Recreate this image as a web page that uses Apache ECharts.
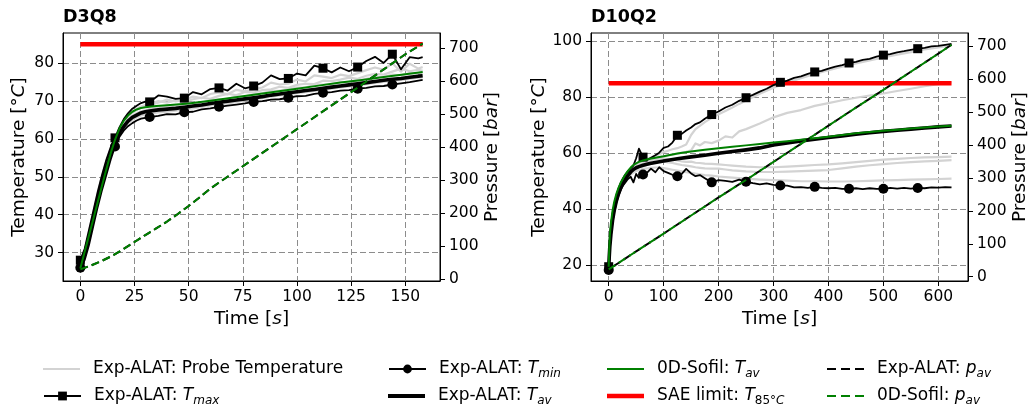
<!DOCTYPE html>
<html>
<head>
<meta charset="utf-8">
<script src="https://cdn.jsdelivr.net/npm/echarts@6/dist/echarts.min.js"></script>
<style>
  html, body { margin: 0; padding: 0; background: #fff; }
  #chart { width: 1028px; height: 407px; }
</style>
</head>
<body>
<div id="chart"></div>
<script>
// ---------------------------------------------------------------
// Tick values
// ---------------------------------------------------------------
const D3Q8_TIME_TICKS = [0, 25, 50, 75, 100, 125, 150];
const D3Q8_TEMP_TICKS = [30, 40, 50, 60, 70, 80];
const D10Q2_TIME_TICKS = [0, 100, 200, 300, 400, 500, 600];
const D10Q2_TEMP_TICKS = [20, 40, 60, 80, 100];
const PRESSURE_TICKS = [0, 100, 200, 300, 400, 500, 600, 700];

const SAE_LIMIT = 85;

// ---------------------------------------------------------------
// D3Q8 : measured temperatures [°C] vs time [s]
// ---------------------------------------------------------------
const D3Q8_TIME = [0, 2, 4, 6, 8, 10, 12, 14, 16, 18, 20, 22, 24, 26, 28, 30, 32,
  36, 40, 44, 48, 52, 56, 60, 64, 68, 72, 76, 80, 84, 88, 92, 96, 100, 104, 108,
  112, 116, 120, 124, 128, 132, 136, 140, 144, 148, 152, 156, 158];
const D3Q8_MARK_TIME = [0, 16, 32, 48, 64, 80, 96, 112, 128, 144];

const D3Q8_TMAX = [28.0, 31.0, 36.0, 41.0, 46.0, 50.5, 54.5, 57.8, 60.3, 63.0, 65.2, 66.8, 68.0, 68.8, 69.5, 69.9, 69.8,
  71.5, 71.2, 70.6, 70.8, 72.4, 71.8, 73.2, 73.5, 72.8, 74.6, 73.4, 74.0, 74.9, 76.8, 75.8, 76.0, 77.3, 76.8, 79.4,
  78.7, 77.6, 78.9, 77.9, 79.0, 80.6, 81.7, 80.1, 82.4, 78.4, 81.6, 81.3, 81.6];
const D3Q8_TMIN = [26.0, 28.0, 32.0, 37.0, 42.0, 46.5, 50.5, 54.5, 58.0, 60.5, 62.2, 63.4, 64.2, 64.9, 65.4, 65.6, 65.8,
  66.1, 66.6, 66.5, 67.1, 67.2, 67.8, 68.1, 68.5, 68.8, 69.1, 69.4, 69.8, 70.0, 70.4, 70.5, 70.9, 71.3, 71.4, 71.9,
  72.2, 72.4, 72.8, 72.9, 73.3, 73.5, 73.9, 74.0, 74.4, 74.7, 75.0, 75.4, 75.6];
const D3Q8_TAV = [26.5, 29.5, 34.0, 39.0, 44.0, 48.5, 52.5, 56.0, 59.0, 61.5, 63.3, 64.7, 65.7, 66.3, 66.9, 67.2, 67.4,
  67.7, 67.9, 68.1, 68.4, 68.7, 69.0, 69.4, 69.7, 70.0, 70.3, 70.6, 70.9, 71.2, 71.6, 71.9, 72.2, 72.5, 72.8, 73.1,
  73.4, 73.7, 74.0, 74.3, 74.6, 74.9, 75.2, 75.5, 75.8, 76.0, 76.3, 76.6, 76.7];
const D3Q8_PROBE_A = [27.0, 30.0, 35.0, 40.0, 45.0, 49.5, 53.5, 57.0, 59.8, 62.3, 64.3, 65.8, 66.9, 67.7, 68.3, 68.7, 69.0,
  69.6, 70.4, 69.9, 70.3, 71.2, 70.8, 71.9, 72.3, 71.8, 73.0, 72.6, 73.1, 73.6, 74.9, 74.4, 74.6, 75.7, 75.2, 76.8,
  76.5, 76.1, 77.0, 76.6, 77.4, 78.2, 78.9, 78.3, 80.0, 77.8, 79.9, 78.6, 79.0];
const D3Q8_PROBE_B = [26.8, 30.0, 34.8, 39.8, 44.8, 49.3, 53.2, 56.8, 59.6, 62.1, 63.9, 65.2, 66.1, 66.8, 67.3, 67.6, 67.9,
  68.4, 68.8, 68.6, 69.2, 69.6, 69.5, 70.3, 70.5, 70.6, 71.2, 71.3, 71.8, 72.1, 72.7, 72.8, 73.1, 73.6, 73.6, 74.3,
  74.4, 74.5, 75.0, 75.1, 75.4, 75.9, 76.4, 76.3, 77.0, 76.8, 77.4, 77.3, 77.5];
const D3Q8_PROBE_C = [26.2, 29.0, 33.3, 38.2, 43.2, 47.8, 51.8, 55.4, 58.4, 60.9, 62.8, 64.1, 65.0, 65.7, 66.2, 66.5, 66.7,
  67.0, 67.2, 67.5, 67.8, 68.1, 68.5, 68.9, 69.2, 69.4, 69.8, 70.2, 70.5, 70.8, 71.2, 71.5, 71.8, 72.1, 72.4, 72.7,
  73.0, 73.3, 73.6, 73.9, 74.1, 74.5, 74.8, 75.1, 75.4, 75.6, 75.9, 76.2, 76.3];
const D3Q8_PROBE_D = [27.0, 30.5, 35.5, 40.5, 45.5, 50.0, 54.0, 57.4, 60.0, 62.6, 64.6, 66.1, 67.2, 68.0, 68.6, 69.0, 69.3,
  70.0, 69.6, 70.2, 69.8, 70.5, 70.9, 70.6, 71.4, 71.9, 71.6, 72.4, 72.3, 72.9, 73.1, 73.8, 73.5, 74.3, 74.6, 74.5,
  75.4, 75.3, 75.7, 76.2, 75.9, 76.7, 77.2, 77.0, 77.8, 78.6, 77.9, 78.3, 78.0];

// D3Q8 : 0D-Sofil average temperature
const D3Q8_SIM_TIME = [0, 2, 4, 6, 8, 10, 12, 14, 16, 18, 20, 22, 24, 26, 28, 30, 35, 40, 50, 60,
  70, 80, 90, 100, 110, 120, 130, 140, 150, 158];
const D3Q8_SIM_TAV = [25.8, 30.2, 34.5, 38.9, 43.3, 47.7, 52.0, 56.2, 59.8, 62.7, 64.8, 66.2, 67.2, 67.8, 68.2, 68.4, 68.7, 68.9, 69.4, 70.1,
  70.9, 71.7, 72.5, 73.3, 74.1, 74.9, 75.6, 76.4, 77.1, 77.7];

// D3Q8 : average pressure [bar]
const D3Q8_P_TIME = [0, 5, 10, 15, 20, 25, 30, 35, 40, 45, 50, 55, 60, 70, 80, 90, 100, 110, 120, 130, 140, 150, 158];
const D3Q8_P_EXP = [30, 42, 56, 72, 92, 113, 134, 154, 175, 198, 222, 248, 275, 320, 365, 410, 455, 500, 545, 590, 636, 682, 714];
const D3Q8_P_SIM = [30, 42, 56, 72, 92, 113, 134, 154, 175, 198, 222, 248, 275, 320, 365, 410, 455, 500, 545, 590, 636, 682, 714];

// ---------------------------------------------------------------
// D10Q2 : measured temperatures [°C] vs time [s]
// ---------------------------------------------------------------
const D10Q2_TIME = [0, 2, 4, 7, 10, 14, 18, 22, 26, 30, 35, 40, 45, 50, 55,
  62.5, 70, 77, 85, 92, 100, 108, 116, 125, 133, 141, 150, 158, 166, 175,
  187.5, 200, 212.5, 225, 237.5, 250, 262.5, 275, 287.5, 300, 312.5, 325, 337.5, 350, 362.5, 375, 387.5, 400,
  412.5, 425, 437.5, 450, 462.5, 475, 487.5, 500, 512.5, 525, 537.5, 550, 562.5, 575, 587.5, 600, 612.5, 624];
const D10Q2_MARK_TIME = [0, 62.5, 125, 187.5, 250, 312.5, 375, 437.5, 500, 562.5];

const D10Q2_TMAX = [19.5, 29.0, 34.0, 38.5, 41.5, 45.0, 47.5, 49.5, 51.0, 52.3, 53.5, 54.6, 55.6, 58.2, 61.6,
  58.6, 57.6, 58.4, 59.3, 60.2, 61.9, 62.4, 63.8, 66.4, 66.9, 68.1, 69.2, 70.4, 71.0, 72.3,
  73.8, 74.9, 76.3, 77.3, 78.7, 79.8, 80.8, 82.0, 83.0, 84.3, 85.3, 85.9, 86.9, 87.4, 88.3, 89.0, 89.4, 90.2,
  90.9, 91.4, 92.2, 92.6, 93.3, 93.7, 94.5, 95.0, 95.4, 96.0, 96.4, 96.9, 97.3, 97.6, 98.1, 98.3, 98.7, 99.0];
const D10Q2_TMIN = [18.3, 26.0, 31.0, 35.5, 39.0, 42.5, 45.0, 47.0, 48.5, 49.5, 50.8, 51.6, 49.6, 52.6, 51.2,
  52.4, 53.1, 54.5, 53.2, 55.0, 53.6, 53.0, 52.3, 51.8, 52.6, 54.4, 52.8, 51.8, 52.2, 51.1,
  49.6, 50.4, 50.1, 49.8, 50.6, 49.8, 49.3, 48.9, 49.2, 48.7, 48.5, 48.4, 47.8, 47.9, 47.6, 48.0, 47.6, 47.5,
  47.6, 47.3, 47.3, 47.5, 47.2, 47.5, 47.3, 47.3, 47.6, 47.4, 47.6, 47.4, 47.6, 47.5, 47.8, 47.7, 47.9, 47.8];

const D10Q2_AV_TIME = [0, 1, 2, 4, 7, 10, 14, 18, 22, 26, 30, 35, 40, 45, 50, 55,
  62.5, 75, 87.5, 100, 125, 150, 175, 200, 225, 250, 275, 300, 325, 350,
  375, 400, 425, 450, 475, 500, 525, 550, 575, 600, 624];
const D10Q2_TAV = [18.8, 23.0, 26.5, 31.0, 36.0, 39.5, 43.0, 45.6, 47.6, 49.2, 50.6, 52.1, 53.3, 54.2, 54.8, 55.2,
  55.7, 56.3, 56.8, 57.2, 58.0, 58.7, 59.3, 60.0, 60.6, 61.2, 61.9, 62.9, 63.7, 64.4,
  65.0, 65.6, 66.2, 66.8, 67.3, 67.8, 68.2, 68.6, 69.0, 69.4, 69.7];
const D10Q2_SIM_TAV = [19.5, 26.0, 30.5, 35.0, 39.5, 42.6, 45.5, 47.7, 49.5, 51.0, 52.3, 53.7, 54.9, 55.8, 56.4, 56.9,
  57.4, 58.0, 58.5, 58.9, 59.9, 60.6, 61.2, 61.8, 62.3, 62.8, 63.3, 63.8, 64.3, 64.8,
  65.3, 65.9, 66.5, 67.1, 67.6, 68.0, 68.4, 68.8, 69.2, 69.5, 69.8];

const D10Q2_PROBE_TIME = [0, 2, 4, 7, 10, 14, 18, 22, 26, 30, 35, 40, 45, 50, 55,
  62.5, 70, 77, 85, 92, 100, 108, 116, 125, 133, 141, 150, 158, 166, 175,
  187.5, 200, 212.5, 225, 237.5, 250, 275, 300, 325, 350, 375, 400, 425, 450, 475, 500, 525, 550, 575, 600, 624];
const D10Q2_PROBE_A = [19.0, 28.0, 33.0, 37.5, 41.0, 44.5, 47.0, 49.0, 50.6, 52.0, 53.3, 54.4, 55.3, 56.2, 57.0,
  57.5, 58.0, 58.5, 59.2, 59.6, 60.4, 60.9, 61.4, 61.8, 62.4, 63.1, 66.5, 68.6, 69.8, 71.1,
  72.6, 73.9, 75.1, 76.3, 77.6, 78.8, 81.2, 83.4, 85.2, 86.8, 88.3, 89.6, 90.9, 92.0, 93.1, 94.2, 95.2, 96.1, 97.0, 97.8, 98.6];
const D10Q2_PROBE_B = [19.0, 27.5, 32.5, 37.0, 40.5, 44.0, 46.5, 48.6, 50.2, 51.6, 53.0, 54.1, 55.0, 55.8, 56.5,
  57.1, 57.5, 57.9, 58.3, 58.6, 58.8, 59.2, 59.5, 59.8, 60.2, 60.5, 61.0, 63.5, 62.8, 64.0,
  63.6, 64.5, 66.0, 65.6, 67.8, 68.6, 70.6, 72.8, 74.4, 75.4, 76.9, 77.9, 78.9, 79.8, 80.6, 81.3, 82.2, 83.0, 83.9, 84.6, 85.3];
const D10Q2_PROBE_C = [19.0, 27.0, 32.0, 36.5, 40.0, 43.5, 46.0, 48.0, 49.8, 51.2, 52.6, 53.8, 54.6, 55.3, 55.8,
  56.3, 56.9, 57.3, 57.7, 58.0, 58.2, 57.9, 57.8, 57.4, 57.1, 56.9, 57.0, 56.6, 56.5, 56.3,
  56.2, 56.0, 55.8, 55.6, 55.4, 55.2, 55.0, 55.0, 55.2, 55.5, 55.8, 56.0, 56.4, 56.8, 57.3, 57.7, 58.0, 58.3, 58.5, 58.6, 58.8];
const D10Q2_PROBE_D = [19.0, 26.5, 31.5, 36.0, 39.5, 43.0, 45.5, 47.5, 49.2, 50.6, 52.0, 53.0, 53.8, 54.4, 54.9,
  55.4, 55.9, 56.3, 56.7, 57.0, 57.1, 56.7, 56.5, 56.1, 55.8, 55.6, 55.3, 55.0, 54.8, 54.6,
  54.5, 54.5, 54.2, 53.9, 53.7, 53.5, 53.3, 53.3, 53.4, 53.6, 53.8, 54.0, 54.6, 55.2, 55.7, 56.1, 56.5, 56.8, 57.1, 57.3, 57.5];
const D10Q2_PROBE_E = [19.0, 26.0, 31.0, 35.5, 39.0, 42.5, 45.0, 47.0, 48.7, 50.0, 51.4, 52.4, 53.1, 53.6, 54.0,
  54.4, 54.6, 54.8, 54.9, 54.9, 54.7, 54.4, 54.1, 53.8, 53.5, 53.2, 53.0, 52.7, 52.5, 52.2,
  52.0, 51.7, 51.5, 51.3, 51.1, 50.9, 50.6, 50.4, 50.2, 50.0, 50.0, 49.9, 49.9, 50.0, 50.1, 50.3, 50.4, 50.6, 50.7, 50.8, 50.9];

// D10Q2 : average pressure [bar]
const D10Q2_P_TIME = [0, 50, 100, 150, 200, 250, 300, 350, 400, 450, 500, 550, 600, 624];
const D10Q2_P_EXP = [22, 77, 131, 186, 241, 294, 349, 404, 459, 514, 568, 623, 678, 705];
const D10Q2_P_SIM = [22, 77, 131, 186, 241, 294, 349, 404, 459, 514, 568, 623, 678, 705];

// ---------------------------------------------------------------
// Styling helpers
// ---------------------------------------------------------------
const FONT = 'DejaVu Sans';
const INK = '#000';

const N_PROBE = 'probe';
const N_TMAX = 'tmax';
const N_TMIN = 'tmin';
const N_TAV_EXP = 'tav_exp';
const N_TAV_SIM = 'tav_sim';
const N_SAE = 'sae';
const N_P_EXP = 'p_exp';
const N_P_SIM = 'p_sim';

const LEGEND_TEXT = {
  [N_PROBE]: 'Exp-ALAT: Probe Temperature',
  [N_TMAX]: 'Exp-ALAT: {i|T}{s|max}',
  [N_TMIN]: 'Exp-ALAT: {i|T}{s|min}',
  [N_TAV_EXP]: 'Exp-ALAT: {i|T}{s|av}',
  [N_TAV_SIM]: '0D-Sofil: {i|T}{s|av}',
  [N_SAE]: 'SAE limit: {i|T}{n|85°}{s|C}',
  [N_P_EXP]: 'Exp-ALAT: {i|p}{s|av}',
  [N_P_SIM]: '0D-Sofil: {i|p}{s|av}'
};

const DASH_ICON = 'path://M0,0h9v2h-9z M14,0h9v2h-9z M28,0h9v2h-9z';

function pairs(times, values, marks) {
  return times.map(function (t, i) {
    const item = { value: [t, values[i]] };
    if (marks && marks.indexOf(t) < 0) item.symbol = 'none';
    return item;
  });
}

function lineSeries(name, xi, yi, data, st) {
  return {
    type: 'line', name: name, xAxisIndex: xi, yAxisIndex: yi, data: data,
    symbol: st.symbol || 'none', symbolSize: st.symbolSize || 0, showSymbol: !!st.symbol,
    lineStyle: { color: st.color, width: st.width, type: st.dash || 'solid', dashOffset: st.dashOffset || 0, cap: 'butt', join: 'round' },
    itemStyle: { color: st.color, borderWidth: 0 },
    z: st.z, silent: true, animation: false, emphasis: { disabled: true }, clip: true
  };
}

function panelSeries(p, xi) {
  const yT = xi * 2, yP = xi * 2 + 1;
  const out = [];
  p.probes.forEach(function (vals) {
    out.push(lineSeries(N_PROBE, xi, yT, pairs(p.probeTime, vals), { color: '#d3d3d3', width: 2.2, z: 2 }));
  });
  out.push(lineSeries(N_SAE, xi, yT, pairs([0, p.end], [SAE_LIMIT, SAE_LIMIT]), { color: '#ff0000', width: 4.5, z: 3 }));
  out.push(lineSeries(N_TMAX, xi, yT, pairs(p.time, p.tmax, p.marks), { color: INK, width: 1.8, symbol: 'rect', symbolSize: 9, z: 4 }));
  out.push(lineSeries(N_TMIN, xi, yT, pairs(p.time, p.tmin, p.marks), { color: INK, width: 1.8, symbol: 'circle', symbolSize: 10, z: 4 }));
  out.push(lineSeries(N_TAV_EXP, xi, yT, pairs(p.avTime, p.tav), { color: INK, width: 3.6, z: 5 }));
  out.push(lineSeries(N_TAV_SIM, xi, yT, pairs(p.simTime, p.simTav), { color: '#008000', width: 2, z: 6 }));
  out.push(lineSeries(N_P_EXP, xi, yP, pairs(p.pTime, p.pExp), { color: INK, width: 2, dash: [8, 4], dashOffset: p.expDashOffset, z: 7 }));
  out.push(lineSeries(N_P_SIM, xi, yP, pairs(p.pTime, p.pSim), { color: '#008000', width: 2, dash: [8, 4], z: 8 }));
  return out;
}

const tickFont = { fontFamily: FONT, fontSize: 15.5, color: INK };
const nameFont = { fontFamily: FONT, fontSize: 18.5, color: INK,
  rich: { i: { fontFamily: FONT, fontSize: 18.5, fontStyle: 'italic', color: INK } } };
const gridLine = { show: true, lineStyle: { type: [6, 3], color: '#8c8c8c', width: 1 } };

function xAxis(gi, min, max, ticks) {
  return {
    gridIndex: gi, type: 'value', min: min, max: max,
    axisLine: { show: true, onZero: false, lineStyle: { color: INK, width: 1 } },
    axisTick: { show: true, customValues: ticks, length: 5, lineStyle: { color: INK, width: 1 } },
    axisLabel: Object.assign({ customValues: ticks, margin: 8 }, tickFont),
    splitLine: gridLine,
    name: 'Time [{i|s}]', nameLocation: 'middle', nameGap: 27, nameTextStyle: nameFont
  };
}

function yAxis(gi, min, max, ticks, side, name, gap, grid) {
  return {
    gridIndex: gi, type: 'value', min: min, max: max, position: side,
    axisLine: { show: true, onZero: false, lineStyle: { color: INK, width: 1 } },
    axisTick: { show: true, customValues: ticks, length: 5, lineStyle: { color: INK, width: 1 } },
    axisLabel: Object.assign({ customValues: ticks, margin: 9 }, tickFont),
    splitLine: grid ? gridLine : { show: false },
    name: name, nameLocation: 'middle', nameRotate: 90, nameGap: gap, nameTextStyle: nameFont
  };
}

const RICH = {
  i: { fontFamily: FONT, fontSize: 17, fontStyle: 'italic', lineHeight: 21, color: INK },
  s: { fontFamily: FONT, fontSize: 12, fontStyle: 'italic', lineHeight: 12, verticalAlign: 'bottom', color: INK },
  n: { fontFamily: FONT, fontSize: 12, lineHeight: 12, verticalAlign: 'bottom', color: INK }
};

const LEGEND_COLS = [43, 388, 607, 827];
const LEGEND_ROWS = [369, 396];

function legendItem(name, col, row, icon, h) {
  const entry = { name: name };
  if (icon) entry.icon = icon;
  return {
    show: true, data: [entry], left: LEGEND_COLS[col], top: LEGEND_ROWS[row] - 10.5,
    orient: 'horizontal', padding: 0, itemWidth: 37, itemHeight: h, selectedMode: false,
    itemStyle: { borderWidth: 0 }, lineStyle: { width: 2 },
    formatter: function (n) { return LEGEND_TEXT[n]; },
    textStyle: { fontFamily: FONT, fontSize: 17, color: INK, lineHeight: 21, padding: [0, 0, 0, 8], rich: RICH }
  };
}

const d3q8 = {
  time: D3Q8_TIME, tmax: D3Q8_TMAX, tmin: D3Q8_TMIN, marks: D3Q8_MARK_TIME,
  avTime: D3Q8_TIME, tav: D3Q8_TAV,
  probeTime: D3Q8_TIME, probes: [D3Q8_PROBE_A, D3Q8_PROBE_B, D3Q8_PROBE_C, D3Q8_PROBE_D],
  simTime: D3Q8_SIM_TIME, simTav: D3Q8_SIM_TAV,
  pTime: D3Q8_P_TIME, pExp: D3Q8_P_EXP, pSim: D3Q8_P_SIM, expDashOffset: 0,
  end: 158
};
const d10q2 = {
  time: D10Q2_TIME, tmax: D10Q2_TMAX, tmin: D10Q2_TMIN, marks: D10Q2_MARK_TIME,
  avTime: D10Q2_AV_TIME, tav: D10Q2_TAV,
  probeTime: D10Q2_PROBE_TIME, probes: [D10Q2_PROBE_A, D10Q2_PROBE_B, D10Q2_PROBE_C, D10Q2_PROBE_D, D10Q2_PROBE_E],
  simTime: D10Q2_AV_TIME, simTav: D10Q2_SIM_TAV,
  pTime: D10Q2_P_TIME, pExp: D10Q2_P_EXP, pSim: D10Q2_P_SIM, expDashOffset: 6,
  end: 624
};

const option = {
  animation: false,
  backgroundColor: '#fff',
  textStyle: { fontFamily: FONT },
  title: [
    { text: 'D3Q8', left: 63, top: 8, padding: 0, textStyle: { fontFamily: FONT, fontSize: 17.5, fontWeight: 'bold', color: INK } },
    { text: 'D10Q2', left: 591, top: 8, padding: 0, textStyle: { fontFamily: FONT, fontSize: 17.5, fontWeight: 'bold', color: INK } }
  ],
  grid: [
    { left: 63, top: 33, width: 377, height: 248, show: true, borderColor: INK, borderWidth: 1, backgroundColor: 'transparent', containLabel: false, outerBoundsMode: 'none' },
    { left: 591, top: 33, width: 377, height: 248, show: true, borderColor: INK, borderWidth: 1, backgroundColor: 'transparent', containLabel: false, outerBoundsMode: 'none' }
  ],
  xAxis: [
    xAxis(0, -8, 166, D3Q8_TIME_TICKS),
    xAxis(1, -32.2, 654, D10Q2_TIME_TICKS)
  ],
  yAxis: [
    yAxis(0, 22.5, 88.0, D3Q8_TEMP_TICKS, 'left', 'Temperature [°{i|C}]', 34, true),
    yAxis(0, -5.2, 746.4, PRESSURE_TICKS, 'right', 'Pressure [{i|bar}]', 41, false),
    yAxis(1, 14.4, 102.9, D10Q2_TEMP_TICKS, 'left', 'Temperature [°{i|C}]', 42.5, true),
    yAxis(1, -13.1, 740.8, PRESSURE_TICKS, 'right', 'Pressure [{i|bar}]', 41, false)
  ],
  legend: [
    legendItem(N_PROBE, 0, 0, 'rect', 2.2),
    legendItem(N_TMAX, 0, 1, null, 11),
    legendItem(N_TMIN, 1, 0, null, 11),
    legendItem(N_TAV_EXP, 1, 1, 'rect', 4),
    legendItem(N_TAV_SIM, 2, 0, 'rect', 2),
    legendItem(N_SAE, 2, 1, 'rect', 4.5),
    legendItem(N_P_EXP, 3, 0, DASH_ICON, 2),
    legendItem(N_P_SIM, 3, 1, DASH_ICON, 2)
  ],
  series: panelSeries(d3q8, 0).concat(panelSeries(d10q2, 1))
};

const chart = echarts.init(document.getElementById('chart'), null, { renderer: 'canvas' });
chart.setOption(option);
</script>
</body>
</html>
